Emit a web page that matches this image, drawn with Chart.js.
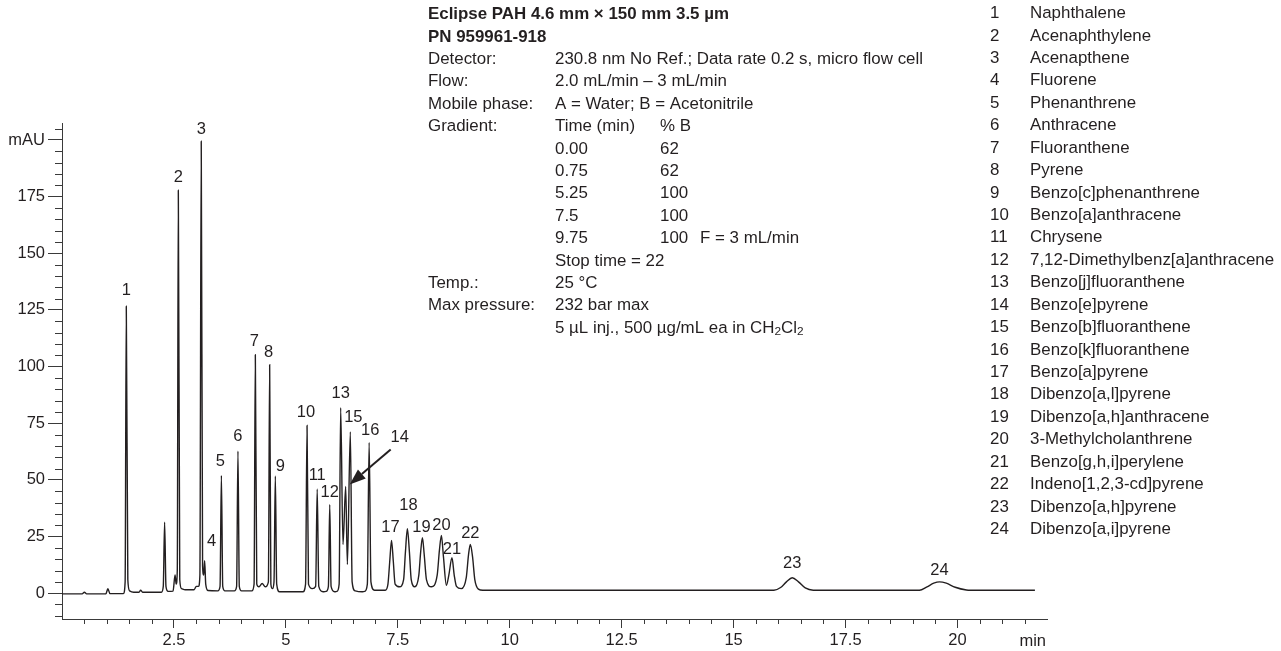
<!DOCTYPE html>
<html><head><meta charset="utf-8">
<script src="https://cdn.jsdelivr.net/npm/chart.js@4.4.1/dist/chart.umd.min.js"></script>
<style>html,body{margin:0;padding:0;background:#fff;overflow:hidden}canvas{display:block}</style>
</head><body>
<canvas id="c" width="1281" height="651"></canvas>
<script>
// ---- Data ----
const traceTime = [0,0.45,0.5,0.55,0.98,1.025,1.07,1.37,1.41,1.436,1.47,1.51,1.6,1.72,1.756,1.80,2.22,2.262,2.292,2.322,2.37,2.48,2.525,2.55,2.575,2.598,2.63,2.67,2.75,2.95,3.0,3.05,3.08,3.11,3.14,3.165,3.186,3.21,3.26,3.48,3.53,3.56,3.59,3.64,3.85,3.90,3.93,3.96,4.01,4.24,4.29,4.318,4.35,4.40,4.47,4.54,4.61,4.638,4.665,4.70,4.735,4.765,4.795,4.86,5.38,5.44,5.473,5.505,5.59,5.665,5.70,5.735,5.83,5.90,5.95,5.98,6.01,6.09,6.14,6.19,6.224,6.276,6.336,6.374,6.44,6.48,6.55,6.70,6.76,6.82,6.86,6.90,6.98,7.22,7.28,7.32,7.36,7.40,7.44,7.54,7.63,7.67,7.714,7.76,7.80,7.88,7.97,8.01,8.05,8.09,8.14,8.25,8.38,8.43,8.474,8.52,8.585,8.64,8.71,8.76,8.81,8.92,9.03,9.08,9.12,9.17,9.22,9.30,9.40,15.9,16.05,16.18,16.31,16.45,16.6,16.78,19.15,19.32,19.47,19.6,19.75,19.95,20.2,20.3,21.73];
const traceSignal = [-0.3,-0.3,0.4,-0.3,-0.3,2.0,-0.2,-0.2,5,126.6,6,1,0.4,0.4,1.3,0.4,0.4,3,31.3,3,0.8,0.9,8,4,10,177.8,6,2,1.5,1.5,3,3,8,199.5,12,8,14.3,4,1.2,1,3,52,3,1,1,3,62.7,3,1,1,4,105.2,4,2.8,4.3,2.8,5,100.8,4,2.0,5,51.7,4,0.6,0.6,4,74,4,2.0,3,46,3,0.6,0.8,3,39.1,3,0.6,0.8,4,81.8,21.5,47.1,12.7,71.2,5,1,0.6,0.8,4,66.5,5,1.3,1.3,4,14,23.3,14,4,2.8,6,18,28.4,18,6,2.8,8,18,24.5,17,6,2.8,8,19,25.5,16,3.5,8,15.6,8,3,2,7,17,21.5,16,6,1.8,1.3,1.3,2.5,5,6.8,5,2.3,1.3,1.3,2.8,4.4,5.0,4.4,2.6,1.4,1.3,1.3];

const peakNumbers = [1,2,3,4,5,6,7,8,9,10,11,12,13,14,15,16,17,18,19,20,21,22,23,24];
const peakTimes   = [1.436,2.598,3.11,3.186,3.56,3.93,4.318,4.638,4.765,5.473,5.70,5.98,6.224,6.336,6.44,6.86,7.36,7.714,8.05,8.474,8.71,9.12,16.31,19.6];
const peakHeights = [126.6,177.8,199.5,14.3,52,62.7,105.2,100.8,51.7,74,46,39.1,81.8,47.1,71.2,66.5,23.3,28.4,24.5,25.5,15.6,21.5,6.8,5.0];

const compoundNames = ['Naphthalene','Acenaphthylene','Acenapthene','Fluorene','Phenanthrene','Anthracene','Fluoranthene','Pyrene','Benzo[c]phenanthrene','Benzo[a]anthracene','Chrysene','7,12-Dimethylbenz[a]anthracene','Benzo[j]fluoranthene','Benzo[e]pyrene','Benzo[b]fluoranthene','Benzo[k]fluoranthene','Benzo[a]pyrene','Dibenzo[a,l]pyrene','Dibenzo[a,h]anthracene','3-Methylcholanthrene','Benzo[g,h,i]perylene','Indeno[1,2,3-cd]pyrene','Dibenzo[a,h]pyrene','Dibenzo[a,i]pyrene'];

const xMajorTicks = [2.5,5,7.5,10,12.5,15,17.5,20];
const yMajorTicks = [0,25,50,75,100,125,150,175,200];
const xRange = [0,22];
const yRange = [-11.4,207.5];

const titleLines = ['Eclipse PAH 4.6 mm \u00d7 150 mm 3.5 \u00b5m','PN 959961-918'];
const methodLabels = ['Detector:','Flow:','Mobile phase:','Gradient:','','','','','','','Temp.:','Max pressure:',''];
const methodValues = ['230.8 nm No Ref.; Data rate 0.2 s, micro flow cell','2.0 mL/min \u2013 3 mL/min','A = Water; B = Acetonitrile','Time (min)','0.00','0.75','5.25','7.5','9.75','Stop time = 22','25 \u00b0C','232 bar max','5 \u00b5L inj., 500 \u00b5g/mL ea in CH'];
const gradientPctB = ['% B','62','62','100','100','100'];
const gradientNote = 'F = 3 mL/min';

// ---- Styling ----
const FONT_FAMILY = '"Liberation Sans", Arial, sans-serif';
const FS = 16.5;      // axis & peak labels
const FS_TEXT = 16.9; // method block & compound list
const INK = '#231f20';
const AXIS = '#3a3a3a';
const labelOffsets = {1:[0,-16],2:[0,-13],3:[0,-12],4:[7,-19],5:[-1,-14],6:[0,-15],7:[-1,-13],8:[-1,-12],9:[5,-10],10:[-1,-13],11:[0,-13],12:[0,-12],13:[0,-14],14:[54,-49],15:[3,-14],16:[1,-12],17:[-1,-13],18:[1,-23],19:[-1,-10],20:[0,-10],21:[0,-8],22:[0,-11],23:[0,-14],24:[0,-11]};

const overlay = {
  id: 'overlay',
  afterDraw(chart) {
    const ctx = chart.ctx;
    const xs = chart.scales.x, ys = chart.scales.y;
    const area = chart.chartArea;
    ctx.save();
    // minor ticks
    ctx.strokeStyle = AXIS; ctx.lineWidth = 1;
    ctx.beginPath();
    for (let v = 0.5; v < xRange[1]; v += 0.5) {
      if (Math.abs(v / 2.5 - Math.round(v / 2.5)) < 1e-6) continue;
      const px = Math.round(xs.getPixelForValue(v)) + 0.5;
      ctx.moveTo(px, area.bottom); ctx.lineTo(px, area.bottom + 5);
    }
    for (let v = -10; v <= 205; v += 5) {
      if (v % 25 === 0 && v >= 0 && v <= 200) continue;
      const py = Math.round(ys.getPixelForValue(v)) + 0.5;
      ctx.moveTo(area.left - 7, py); ctx.lineTo(area.left, py);
    }
    ctx.stroke();

    ctx.fillStyle = INK;
    ctx.textBaseline = 'middle';
    // axis unit "min"
    ctx.font = FS + 'px ' + FONT_FAMILY;
    ctx.textAlign = 'right';
    ctx.fillText('min', area.right - 1, 641);

    // peak labels
    ctx.textAlign = 'center';
    peakNumbers.forEach((n, i) => {
      const px = xs.getPixelForValue(peakTimes[i]);
      const py = ys.getPixelForValue(peakHeights[i]);
      const o = labelOffsets[n];
      ctx.fillText(String(n), px + o[0], py + o[1]);
    });
    // arrow to peak 14
    {
      const i = peakNumbers.indexOf(14);
      const ax = xs.getPixelForValue(peakTimes[i]);
      const ay = ys.getPixelForValue(peakHeights[i]);
      const tail = [ax + 45, ay - 37];
      const tip = [ax + 4, ay - 2];
      const dx = tip[0] - tail[0], dy = tip[1] - tail[1];
      const len = Math.hypot(dx, dy), ux = dx / len, uy = dy / len;
      const hl = 16, hw = 6;
      const bx = tip[0] - ux * hl, by = tip[1] - uy * hl;
      ctx.strokeStyle = INK; ctx.lineWidth = 2;
      ctx.beginPath(); ctx.moveTo(tail[0], tail[1]); ctx.lineTo(bx, by); ctx.stroke();
      ctx.beginPath();
      ctx.moveTo(tip[0], tip[1]);
      ctx.lineTo(bx - uy * hw, by + ux * hw);
      ctx.lineTo(bx + uy * hw, by - ux * hw);
      ctx.closePath(); ctx.fill();
    }

    // method block
    const rowY = r => 14.5 + r * 22.4;
    ctx.textAlign = 'left';
    ctx.font = 'bold ' + FS_TEXT + 'px ' + FONT_FAMILY;
    titleLines.forEach((t, r) => ctx.fillText(t, 428, rowY(r)));
    ctx.font = FS_TEXT + 'px ' + FONT_FAMILY;
    methodLabels.forEach((t, k) => { if (t) ctx.fillText(t, 428, rowY(k + 2)); });
    methodValues.forEach((t, k) => ctx.fillText(t, 555, rowY(k + 2)));
    gradientPctB.forEach((t, k) => ctx.fillText(t, 660, rowY(k + 5)));
    ctx.fillText(gradientNote, 700, rowY(10));
    // CH2Cl2 subscripts
    {
      const last = methodValues[methodValues.length - 1];
      const y = rowY(methodValues.length + 1);
      let x = 555 + ctx.measureText(last).width;
      const sub = (FS_TEXT * 0.7) + 'px ' + FONT_FAMILY;
      ctx.font = sub; ctx.fillText('2', x, y + 4); x += ctx.measureText('2').width;
      ctx.font = FS_TEXT + 'px ' + FONT_FAMILY; ctx.fillText('Cl', x, y); x += ctx.measureText('Cl').width;
      ctx.font = sub; ctx.fillText('2', x, y + 4);
    }

    // compound legend
    ctx.font = FS_TEXT + 'px ' + FONT_FAMILY;
    compoundNames.forEach((name, k) => {
      const y = 13.5 + k * 22.43;
      ctx.fillText(String(peakNumbers[k]), 990, y);
      ctx.fillText(name, 1030, y);
    });
    ctx.restore();
  }
};

new Chart(document.getElementById('c'), {
  type: 'line',
  data: {
    datasets: [{
      data: traceTime.map((t, i) => ({x: t, y: traceSignal[i]})),
      borderColor: INK,
      borderWidth: 1.4,
      pointRadius: 0,
      fill: false,
      cubicInterpolationMode: 'monotone'
    }]
  },
  options: {
    responsive: false,
    animation: false,
    devicePixelRatio: 1,
    layout: {padding: {left: 0, top: 123, right: 234, bottom: 0}},
    plugins: {legend: {display: false}, tooltip: {enabled: false}},
    scales: {
      x: {
        type: 'linear', min: xRange[0], max: xRange[1],
        afterFit: s => { s.height = 32; },
        afterBuildTicks: s => { s.ticks = xMajorTicks.map(v => ({value: v})); },
        grid: {display: true, drawOnChartArea: false, tickLength: 9, color: AXIS, lineWidth: 1},
        border: {display: true, color: AXIS, width: 1},
        ticks: {autoSkip: false, maxRotation: 0, padding: 3, color: INK, font: {family: FONT_FAMILY, size: FS},
                callback: v => String(v)}
      },
      y: {
        type: 'linear', min: yRange[0], max: yRange[1],
        afterFit: s => { s.width = 62; },
        afterBuildTicks: s => { s.ticks = yMajorTicks.map(v => ({value: v})); },
        grid: {display: true, drawOnChartArea: false, tickLength: 14, color: AXIS, lineWidth: 1},
        border: {display: true, color: AXIS, width: 1},
        ticks: {autoSkip: false, padding: 3, color: INK, font: {family: FONT_FAMILY, size: FS},
                callback: v => (v === 200 ? 'mAU' : String(v))}
      }
    }
  },
  plugins: [overlay]
});
</script>
</body></html>
